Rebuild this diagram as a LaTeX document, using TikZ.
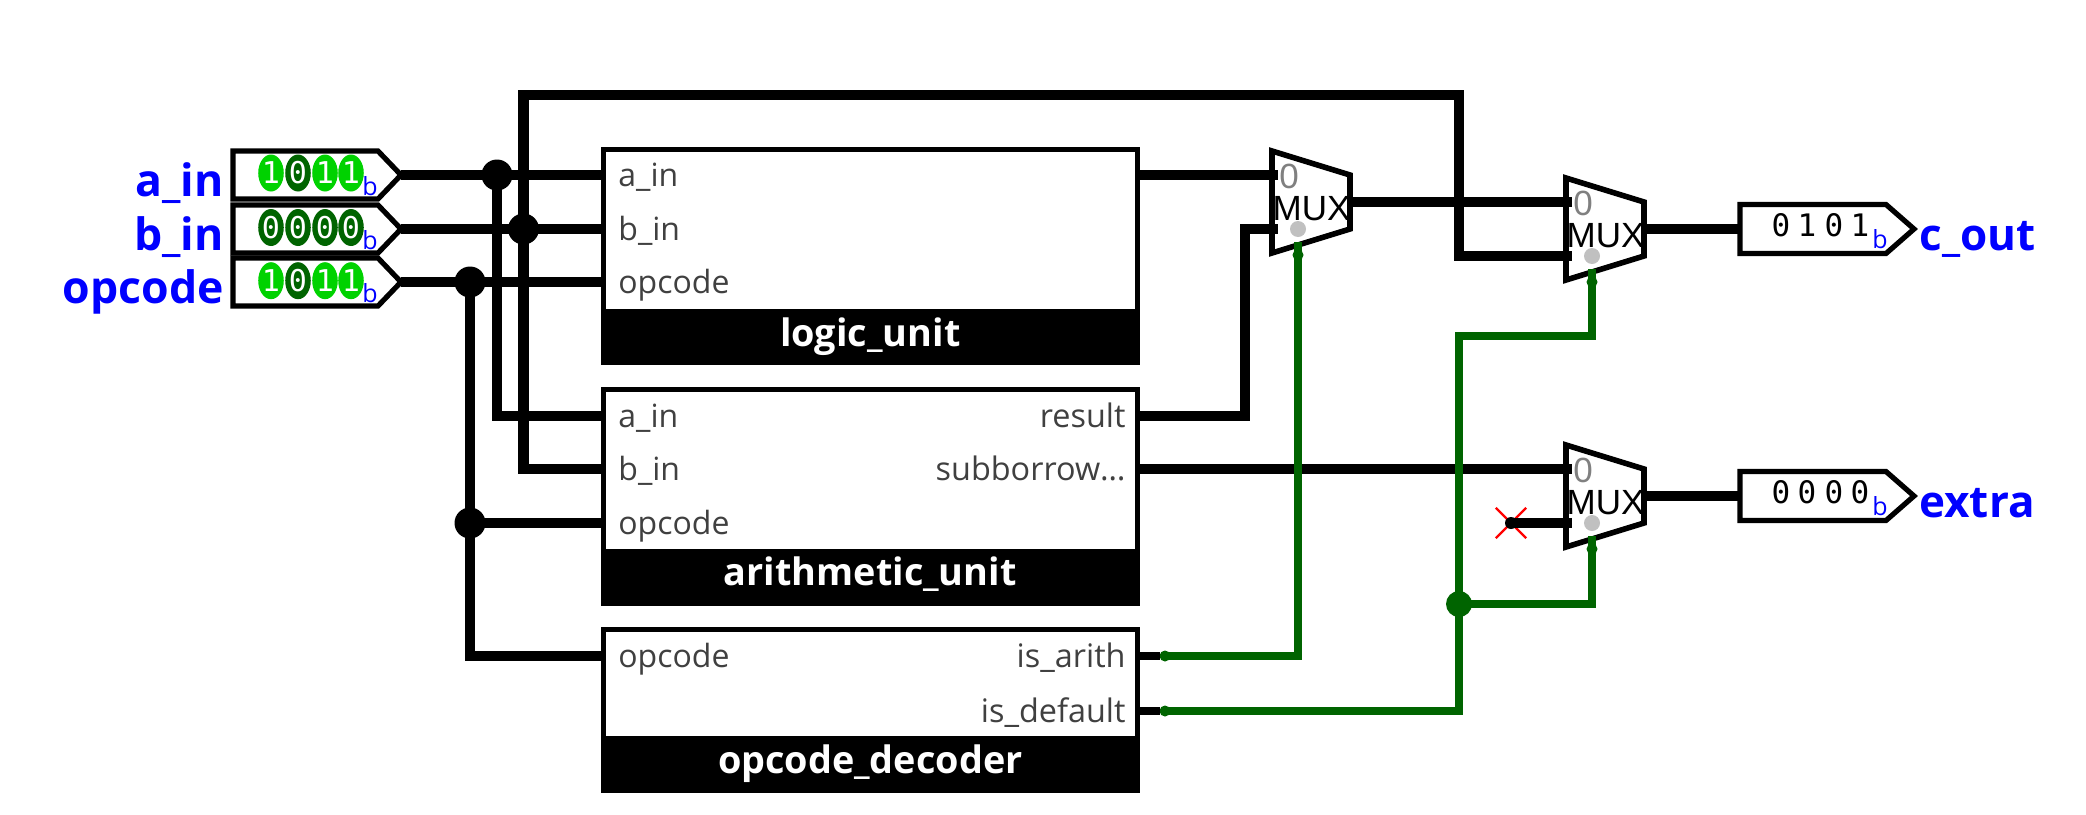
\documentclass[tikz,border=0pt]{standalone}
\usepackage{fontspec}
\setmainfont{Open Sans}
\newfontfamily\pinfont{DejaVu Sans Mono}
\newfontfamily\muxfont{Liberation Sans}
\usepackage{tikz}
\usetikzlibrary{shapes.geometric,shapes.misc,calc}
\definecolor{wireon}{RGB}{0,100,0}
\definecolor{bitone}{RGB}{0,210,0}
\definecolor{porttext}{RGB}{64,64,64}
\definecolor{selgray}{RGB}{192,192,192}
\newcommand{\fsz}[1]{\fontsize{#1}{#1}\selectfont}

\begin{document}
\begin{tikzpicture}[x=0.5pt,y=-0.5pt,
     bus/.style={line width=5.4pt,draw=black,line join=miter},
     ctrl/.style={line width=3.8pt,draw=wireon,line join=miter},
     stub/.style={line width=4pt,draw=black},
     joint/.style={circle,fill=black,inner sep=0pt,outer sep=0pt,minimum size=15.5pt},
     ctrljoint/.style={circle,fill=wireon,inner sep=0pt,outer sep=0pt,minimum size=13pt},
     ctrldot/.style={circle,fill=wireon,inner sep=0pt,outer sep=0pt,minimum size=5.5pt},
     seldot/.style={circle,fill=selgray,inner sep=0pt,minimum size=8pt},
     nodot/.style={circle,fill=black,inner sep=0pt,outer sep=0pt,minimum size=6pt},
     nocross/.style={cross out,draw=red,line width=1.2pt,inner sep=0pt,minimum size=14pt},
     pinbody/.style={draw=black,line width=2.6pt,fill=white,line join=miter},
     muxbody/.style={draw=black,line width=2.8pt,fill=white,line join=miter},
     blockbox/.style={rectangle,draw=black,line width=2.5pt,fill=white,minimum width=266.75pt,inner sep=0pt},
     titlebar/.style={rectangle,fill=black,inner sep=0pt,minimum width=269.2pt},
     titletext/.style={anchor=base,text=white,font=\fsz{18.9pt}\bfseries,inner sep=0pt},
     portleft/.style={anchor=base west,text=porttext,font=\fsz{16pt},inner sep=0pt},
     portright/.style={anchor=base east,text=porttext,font=\fsz{16.2pt},inner sep=0pt},
     inname/.style={anchor=base east,text=blue,font=\fsz{22.3pt}\bfseries,inner sep=0pt},
     outname/.style={anchor=base west,text=blue,font=\fsz{22pt}\bfseries,inner sep=0pt},
     bitoval/.style={ellipse,inner sep=0pt,minimum width=12pt,minimum height=18.5pt,text=white,font=\pinfont\fsz{15pt}},
     bitplain/.style={inner sep=0pt,text=black,font=\pinfont\fsz{15.5pt}},
     radix/.style={anchor=base,inner sep=0pt,text=blue,font=\fsz{12.5pt}},
     muxname/.style={inner sep=0pt,font=\muxfont\fsz{17.5pt}},
     muxzero/.style={inner sep=0pt,text=gray,font=\muxfont\fsz{17.5pt}}]
    \useasboundingbox (0,0) rectangle (2086,814);

    % input pins
    \foreach \name/\y/\txt in {a/175/a\_in,b/229/b\_in,c/282/opcode}{
      \draw[pinbody] (233,\y-24) -- (378,\y-24) -- (401,\y) -- (378,\y+24) -- (233,\y+24) -- cycle;
      \coordinate (pin-\name) at (401,\y);
      \node[inname] (name-\name) at (224,\y+21) {\txt};
      \node[radix] (radix-\name) at (370,\y+20) {b};
    }
    \foreach \i/\x/\col in {0/271/bitone,1/298/wireon,2/325/bitone,3/351/bitone}
      \node[bitoval,fill=\col] (abit\i) at (\x,173) {\ifnum\i=1 0\else 1\fi};
    \foreach \i/\x in {0/271,1/298,2/325,3/351}
      \node[bitoval,fill=wireon] (bbit\i) at (\x,227.5) {0};
    \foreach \i/\x/\col in {0/271/bitone,1/298/wireon,2/325/bitone,3/351/bitone}
      \node[bitoval,fill=\col] (cbit\i) at (\x,280.7) {\ifnum\i=1 0\else 1\fi};

    % blocks
    \foreach \name/\ya/\yb/\yc/\yd/\txt in {lu/149.5/362.5/337/346/logic\_unit,
        au/389.5/603.5/577.5/585.7/arithmetic\_unit,du/629.5/790.5/764.5/773/opcode\_decoder}{
      \node[blockbox,minimum height={(\yb-\ya)*0.5pt}] (\name) at (870.25,{(\ya+\yb)/2}) {};
      \node[titlebar,minimum height=28.3pt] (\name-bar) at (870.25,\yc) {};
      \node[titletext] (\name-title) at (870.25,\yd) {\txt};
    }
    \foreach \name/\y/\txt in {lua/175/a\_in,lub/229/b\_in,luc/282/opcode,
        aua/416/a\_in,aub/469/b\_in,auc/523/opcode,duc/656/opcode}{
      \coordinate (\name) at (603,\y);
      \node[portleft] (\name-text) at (618,\y+11) {\txt};
    }
    \foreach \name/\y/\txt in {aur/416/result,aus/469/subborrow\ldots,dua/656/is\_arith,dud/711/is\_default}{
      \coordinate (\name) at (1137,\y);
      \node[portright] (\name-text) at (1126,\y+11) {\txt};
    }
    \coordinate (luout) at (1137,175);

    % muxes
    \foreach \name/\cx/\cy in {muxa/1311/202,muxb/1605/229,muxc/1605/496}{
      \draw[muxbody] (\cx-39,\cy-51) -- (\cx+39,\cy-27) -- (\cx+39,\cy+27) -- (\cx-39,\cy+51) -- cycle;
      \node[muxzero] (\name-zero) at (\cx-22,\cy-26) {0};
      \node[muxname] (\name-text) at (\cx+0.5,\cy+6.5) {MUX};
      \node[seldot] (\name-dot) at (\cx-13,\cy+27) {};
      \node[ctrldot] (\name-sel) at (\cx-13,\cy+53) {};
      \coordinate (\name-a) at (\cx-33,\cy-27);
      \coordinate (\name-b) at (\cx-33,\cy+27);
      \coordinate (\name-o) at (\cx+36,\cy);
      \coordinate (\name-s) at (\cx-13,\cy+40);
    }

    % output pins
    \foreach \name/\y/\txt in {p/229/c\_out,q/496/extra}{
      \draw[pinbody] (1740,\y-24.5) -- (1886,\y-24.5) -- (1914,\y) -- (1886,\y+24.5) -- (1740,\y+24.5) -- cycle;
      \coordinate (pin-\name) at (1740,\y);
      \node[outname] (name-\name) at (1919,\y+21) {\txt};
      \node[radix] (radix-\name) at (1880,\y+19) {b};
    }
    \foreach \i/\x/\bit in {0/1781/0,1/1807/1,2/1834/0,3/1860/1}
      \node[bitplain] (pbit\i) at (\x,225) {\bit};
    \foreach \i/\x in {0/1781,1/1807,2/1834,3/1860}
      \node[bitplain] (qbit\i) at (\x,492) {0};

    % junctions
    \node[joint] (ja) at (497,175) {};
    \node[joint] (jb) at (523.5,229) {};
    \node[joint] (jc) at (470,282) {};
    \node[joint] (jd) at (470,523) {};
    \node[ctrljoint] (je) at (1459,604) {};
    \node[ctrldot] (arithdot) at (1165,656) {};
    \node[ctrldot] (defdot) at (1165,711) {};
    \coordinate (topturn) at (1459,95);
    \coordinate (ctrlturn) at (1459,336);
    \coordinate (resturn) at (1245,416);
    \node[nocross] (nc) at (1511,523) {};
    \node[nodot] (ncdot) at (1511,523) {};

    % wires
    \draw[bus] (pin-a) -- (lua);
    \draw[bus] (pin-b) -- (lub);
    \draw[bus] (pin-c) -- (luc);
    \draw[bus] (ja.center) |- (aua);
    \draw[bus] (jb.center) |- (aub);
    \draw[bus] (jc.center) |- (duc);
    \draw[bus] (jd.center) -- (auc);
    \draw[bus] (jb.center) |- (topturn) -- (topturn |- muxb-b) -- (muxb-b);
    \draw[bus] (luout) -- (muxa-a);
    \draw[bus] (aur) -- (resturn) |- (muxa-b);
    \draw[bus] (muxa-o) -- (muxb-a);
    \draw[bus] (aus) -- (muxc-a);
    \draw[bus] (ncdot.center) -- (muxc-b);
    \draw[bus] (muxb-o) -- (pin-p);
    \draw[bus] (muxc-o) -- (pin-q);
    \draw[stub] (dua) -- (arithdot);
    \draw[stub] (dud) -- (defdot);
    \draw[ctrl] (arithdot.center) -| (muxa-s);
    \draw[ctrl] (defdot.center) -| (je.center);
    \draw[ctrl] (je.center) -- (ctrlturn) -| (muxb-s);
    \draw[ctrl] (je.center) -| (muxc-s);
\end{tikzpicture}
\end{document}
